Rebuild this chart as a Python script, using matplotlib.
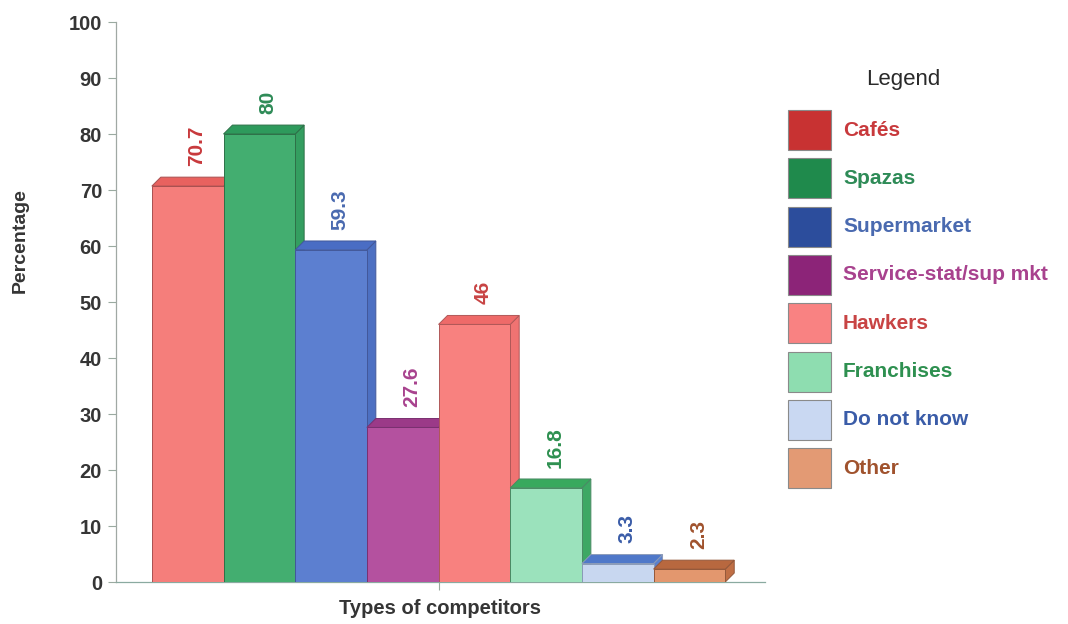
import matplotlib
matplotlib.use("Agg")
import matplotlib.pyplot as plt
from matplotlib.patches import Polygon, Rectangle

plt.rcParams['font.family'] = ['Liberation Sans', 'DejaVu Sans']

# Survey data: share of respondents naming each type of competitor
categories = ["Cafés", "Spazas", "Supermarket", "Service-stat/sup mkt",
              "Hawkers", "Franchises", "Do not know", "Other"]
values = [70.7, 80, 59.3, 27.6, 46, 16.8, 3.3, 2.3]
value_labels = ["70.7", "80", "59.3", "27.6", "46", "16.8", "3.3", "2.3"]
yticks = [0, 10, 20, 30, 40, 50, 60, 70, 80, 90, 100]

# Face colours of each bar: front, top, side
front_colors = ["#F57E7B", "#43AE70", "#5C7FD0", "#B4519F",
                "#F8817F", "#9BE2BC", "#C8D7F0", "#E3976E"]
top_colors = ["#E8625F", "#2E9A5C", "#4A6DC4", "#9B3A88",
              "#EE6A69", "#38A95E", "#4F78C9", "#B8683F"]
side_colors = ["#EE6E6B", "#349E60", "#4D70C2", "#A0408E",
               "#F07372", "#3DA864", "#5A80CC", "#C06F45"]
edge_colors = ["#A85050", "#2E7048", "#42589A", "#7A3070",
               "#B05858", "#4A8A64", "#8A9AB8", "#94583A"]
label_colors = ["#C8393C", "#2E8B57", "#4A6AB0", "#A8428E",
                "#C84444", "#2E9050", "#3A5CA8", "#A0522D"]
swatch_colors = ["#C83232", "#1F8A4C", "#2C4D9C", "#8C2478",
                 "#F98282", "#8EDDB0", "#C9D8F2", "#E39A74"]

fig = plt.figure(figsize=(10.68, 6.24), dpi=100)
fig.patch.set_facecolor("white")
ax = fig.add_axes([0.1086, 0.0673, 0.6074, 0.8974])

width = 1.0
dx, dy = 0.125, 1.6  # 3-D depth offset in data units

for i, (v, fc, tc, sc, ec) in enumerate(zip(values, front_colors, top_colors,
                                             side_colors, edge_colors)):
    x0 = i - width / 2
    x1 = i + width / 2
    z = 3 + i * 0.1
    ax.add_patch(Polygon([(x1, 0), (x1, v), (x1 + dx, v + dy), (x1 + dx, dy)],
                         closed=True, facecolor=sc, edgecolor=ec, lw=0.7, zorder=z))
    ax.add_patch(Polygon([(x0, v), (x0 + dx, v + dy), (x1 + dx, v + dy), (x1, v)],
                         closed=True, facecolor=tc, edgecolor=ec, lw=0.7, zorder=z))
    ax.bar(i, v, width=width, color=fc, edgecolor=ec, lw=0.7, zorder=z)

for i, (v, lab, c) in enumerate(zip(values, value_labels, label_colors)):
    ax.annotate(lab, xy=(i + dx, v + dy), xytext=(0, 8),
                textcoords="offset points", rotation=90, ha="center", va="bottom",
                fontsize=15, fontweight="bold", color=c, zorder=10)

ax.set_xlim(-1.0, 8.05)
ax.set_ylim(0, 100)
ax.set_yticks(yticks)
ax.set_yticklabels([str(t) for t in yticks], fontsize=14.5, fontweight="bold",
                   color="#353535")
ax.set_xticks([3.5])
ax.set_xticklabels([""])
ax.tick_params(axis="y", length=6, color="#9AAAA0", width=0.8, pad=4)
ax.tick_params(axis="x", length=6, color="#9AAAA0", width=0.8)
for s in ["top", "right"]:
    ax.spines[s].set_visible(False)
ax.spines["left"].set_color("#A0A8A4")
ax.spines["bottom"].set_color("#8AAAA0")
ax.spines["left"].set_linewidth(0.9)
ax.spines["bottom"].set_linewidth(0.9)

ax.set_ylabel("Percentage", fontsize=14, fontweight="bold", color="#353535",
              va="center")
ax.yaxis.set_label_coords(-0.148, 0.61)
ax.set_xlabel("Types of competitors", fontsize=14.5, fontweight="bold",
              color="#353535", va="center")
ax.xaxis.set_label_coords(0.5, -0.047)

# Legend panel on the right
W, H = 1068.0, 624.0
fig.text(903 / W, 1 - 80 / H, "Legend", ha="center", va="center",
         fontsize=16, color="#2A2A2A")
for k, (name, sw, lc) in enumerate(zip(categories, swatch_colors, label_colors)):
    top = 110 + k * 48.3
    fig.patches.append(Rectangle((788 / W, 1 - (top + 40) / H), 43 / W, 40 / H,
                                 transform=fig.transFigure, facecolor=sw,
                                 edgecolor="#8A8A8A", lw=0.8))
    fig.text(843 / W, 1 - (top + 20) / H, name, ha="left", va="center",
             fontsize=15, fontweight="bold", color=lc)

fig.savefig("out.png", dpi=100)
